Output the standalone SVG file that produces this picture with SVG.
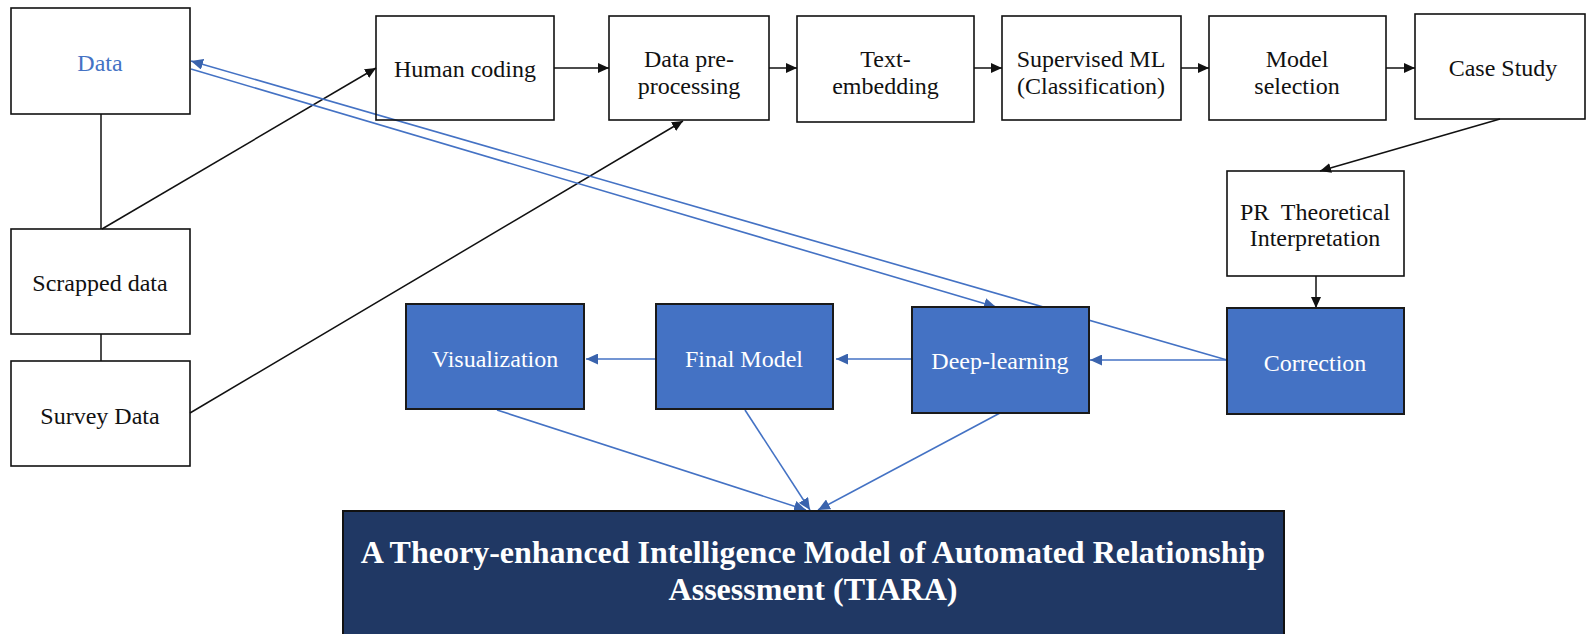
<svg xmlns="http://www.w3.org/2000/svg" width="1587" height="634" viewBox="0 0 1587 634">
<style>
.box{fill:none;stroke:#111;stroke-width:1.6}
.bbox{fill:#4472C4;stroke:#1a1a1a;stroke-width:2}
.tbox{fill:#203864;stroke:#111;stroke-width:2}
.t{font-family:"Liberation Serif","Times New Roman",serif;font-size:24px;fill:#111;text-anchor:middle}
.w{fill:#fff}
.b{fill:#4472C4}
.tt{font-family:"Liberation Serif","Times New Roman",serif;font-size:32px;font-weight:bold;fill:#fff;text-anchor:middle}
.k{stroke:#111;stroke-width:1.5;fill:none}
.u{stroke:#4472C4;stroke-width:1.6;fill:none}
</style>
<defs>
<marker id="ak" markerUnits="userSpaceOnUse" markerWidth="12" markerHeight="10" refX="11" refY="5" orient="auto">
<path d="M0,0 L11,5 L0,10 z" fill="#111"/>
</marker>
<marker id="ab" markerUnits="userSpaceOnUse" markerWidth="13" markerHeight="11" refX="12" refY="5.5" orient="auto">
<path d="M0,0 L12,5.5 L0,11 z" fill="#3A63AD"/>
</marker>
</defs>
<g id="connectors">
<line class="k" x1="101" y1="114" x2="101" y2="229"/>
<line class="k" x1="101" y1="334" x2="101" y2="361"/>
<line class="k" x1="102" y1="229" x2="376" y2="68" marker-end="url(#ak)"/>
<line class="k" x1="190" y1="413" x2="683" y2="121" marker-end="url(#ak)"/>
<line class="k" x1="554" y1="68" x2="609" y2="68" marker-end="url(#ak)"/>
<line class="k" x1="769" y1="68" x2="797" y2="68" marker-end="url(#ak)"/>
<line class="k" x1="974" y1="68" x2="1002" y2="68" marker-end="url(#ak)"/>
<line class="k" x1="1181" y1="68" x2="1209" y2="68" marker-end="url(#ak)"/>
<line class="k" x1="1386" y1="68" x2="1415" y2="68" marker-end="url(#ak)"/>
<line class="k" x1="1500" y1="119" x2="1320" y2="171" marker-end="url(#ak)"/>
<line class="k" x1="1316" y1="276" x2="1316" y2="308" marker-end="url(#ak)"/>
<line class="u" x1="1227" y1="360" x2="191" y2="61" marker-end="url(#ab)"/>
<line class="u" x1="191" y1="69" x2="996" y2="307" marker-end="url(#ab)"/>
<line class="u" x1="1227" y1="360" x2="1090" y2="360" marker-end="url(#ab)"/>
<line class="u" x1="912" y1="359" x2="836" y2="359" marker-end="url(#ab)"/>
<line class="u" x1="656" y1="359" x2="586" y2="359" marker-end="url(#ab)"/>
<line class="u" x1="497" y1="410" x2="806" y2="510" marker-end="url(#ab)"/>
<line class="u" x1="745" y1="410" x2="810" y2="510" marker-end="url(#ab)"/>
<line class="u" x1="1000" y1="413" x2="818" y2="510" marker-end="url(#ab)"/>
</g>
<g id="data"><rect class="box" x="11" y="8" width="179" height="106"/><text class="t b" x="100" y="71">Data</text></g>
<g id="scrapped"><rect class="box" x="11" y="229" width="179" height="105"/><text class="t" x="100" y="291">Scrapped data</text></g>
<g id="survey"><rect class="box" x="11" y="361" width="179" height="105"/><text class="t" x="100" y="424">Survey Data</text></g>
<g id="human"><rect class="box" x="376" y="16" width="178" height="104"/><text class="t" x="465" y="77">Human coding</text></g>
<g id="preproc"><rect class="box" x="609" y="16" width="160" height="104"/><text class="t" x="689" y="67">Data pre-</text><text class="t" x="689" y="94">processing</text></g>
<g id="embed"><rect class="box" x="797" y="16" width="177" height="106"/><text class="t" x="885.5" y="67">Text-</text><text class="t" x="885.5" y="94">embedding</text></g>
<g id="supervised"><rect class="box" x="1002" y="16" width="179" height="104"/><text class="t" x="1091" y="67">Supervised ML</text><text class="t" x="1091" y="94">(Classification)</text></g>
<g id="modelsel"><rect class="box" x="1209" y="16" width="177" height="104"/><text class="t" x="1297" y="67">Model</text><text class="t" x="1297" y="94">selection</text></g>
<g id="casestudy"><rect class="box" x="1415" y="14" width="170" height="105"/><text class="t" x="1503" y="76">Case Study</text></g>
<g id="pr"><rect class="box" x="1227" y="171" width="177" height="105"/><text class="t" x="1315" y="220" style="white-space:pre">PR  Theoretical</text><text class="t" x="1315" y="246">Interpretation</text></g>
<g id="correction"><rect class="bbox" x="1227" y="308" width="177" height="106"/><text class="t w" x="1315" y="371">Correction</text></g>
<g id="deep"><rect class="bbox" x="912" y="307" width="177" height="106"/><text class="t w" x="1000" y="369">Deep-learning</text></g>
<g id="final"><rect class="bbox" x="656" y="304" width="177" height="105"/><text class="t w" x="744" y="367">Final Model</text></g>
<g id="visual"><rect class="bbox" x="406" y="304" width="178" height="105"/><text class="t w" x="495" y="367">Visualization</text></g>
<g id="tiara"><rect class="tbox" x="343" y="511" width="941" height="130"/><text class="tt" x="813" y="563">A Theory-enhanced Intelligence Model of Automated Relationship</text><text class="tt" x="813" y="600">Assessment (TIARA)</text></g>
</svg>
